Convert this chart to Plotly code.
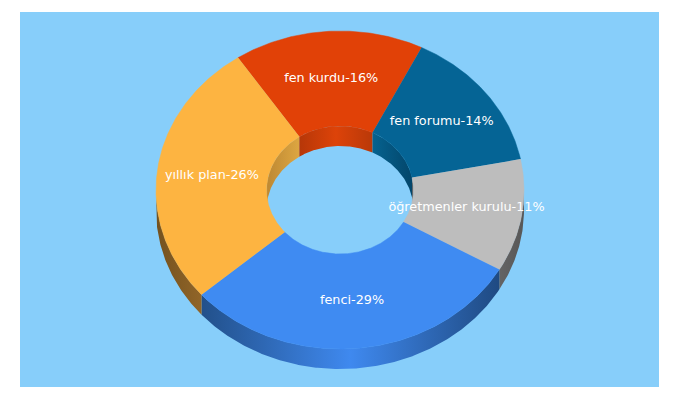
import numpy as np
import plotly.graph_objects as go

categories = ['fen kurdu', 'fen forumu', 'öğretmenler kurulu', 'fenci', 'yıllık plan']
values = [16, 14, 11, 29, 26]

colors = ['#e14107', '#056495', '#bdbdbd', '#3f8bf2', '#fdb441']
# horizontal gradients of the side walls, left to right
outer_walls = [
    None,
    None,
    ['#646464', '#575757'],
    ['#22508a', '#3f89ef', '#1f4a82'],
    ['#73511f', '#916528'],
]
inner_walls = [
    ['#b63708', '#dd4309', '#b93909'],
    ['#06628f', '#03466b'],
    ['#555555', '#555555'],
    None,
    ['#bd8833', '#dda641'],
]

start_angle = 326.3
cx, cy = 340, 190
rx, ry = 184, 159
hole_rx, hole_ry = 73.5, 64
depth = 20


def arc(a0, a1, a, b, dy=0):
    t = np.radians(np.linspace(a0, a1, max(int(abs(a1 - a0) * 2), 2)))
    return cx + a * np.sin(t), cy - b * np.cos(t) + dy


def band(a0, a1, a, b):
    x1, y1 = arc(a0, a1, a, b)
    x2, y2 = arc(a1, a0, a, b, depth)
    return np.r_[x1, x2], np.r_[y1, y2]


def gradient(stops):
    pos = np.linspace(0, 1, len(stops))
    return dict(type='horizontal', colorscale=[[float(p), c] for p, c in zip(pos, stops)])


def add_wall(fig, a0, a1, a, b, stops):
    x, y = band(a0, a1, a, b)
    fig.add_trace(go.Scatter(x=x, y=y, mode='lines', line=dict(width=0), fill='toself',
                             fillgradient=gradient(stops), hoverinfo='skip'))


shares = np.array(values) / sum(values) * 360
starts = start_angle + np.r_[0, np.cumsum(shares)[:-1]]
ends = starts + shares

fig = go.Figure()

# inside of the hole, only its far half shows
for a0, a1, stops in zip(starts, ends, inner_walls):
    for lo, hi in [(270, 450), (630, 810)]:
        b0, b1 = max(a0, lo), min(a1, hi)
        if b1 > b0 and stops:
            add_wall(fig, b0, b1, hole_rx, hole_ry, stops)

# outside wall, only the near half shows
for a0, a1, stops in zip(starts, ends, outer_walls):
    for lo, hi in [(90, 270), (450, 630)]:
        b0, b1 = max(a0, lo), min(a1, hi)
        if b1 > b0 and stops:
            add_wall(fig, b0, b1, rx, ry, stops)

# top faces
for a0, a1, c in zip(starts, ends, colors):
    x1, y1 = arc(a0, a1, rx, ry)
    x2, y2 = arc(a1, a0, hole_rx, hole_ry)
    fig.add_trace(go.Scatter(x=np.r_[x1, x2], y=np.r_[y1, y2], mode='lines',
                             line=dict(width=0.5, color=c), fill='toself', fillcolor=c,
                             hoverinfo='skip'))

mid = np.radians((starts + ends) / 2)
fig.add_trace(go.Scatter(
    x=cx + (rx + hole_rx) / 2 * np.sin(mid) - 0.5,
    y=cy - (ry + hole_ry) / 2 * np.cos(mid),
    mode='text',
    text=[f'{n}-{v}%' for n, v in zip(categories, values)],
    textposition='middle center',
    textfont=dict(family='DejaVu Sans', size=12.8, color='white'),
    hoverinfo='skip',
))

fig.update_xaxes(range=[20, 659], visible=False)
fig.update_yaxes(range=[387, 12], visible=False)
fig.update_layout(
    width=680,
    height=400,
    showlegend=False,
    paper_bgcolor='white',
    plot_bgcolor='#87cefa',
    margin=dict(l=20, r=21, t=12, b=13),
)

fig.write_html('out.html', config=dict(displayModeBar=False),
               post_script="document.body.style.margin='0';document.body.style.overflow='hidden';")
